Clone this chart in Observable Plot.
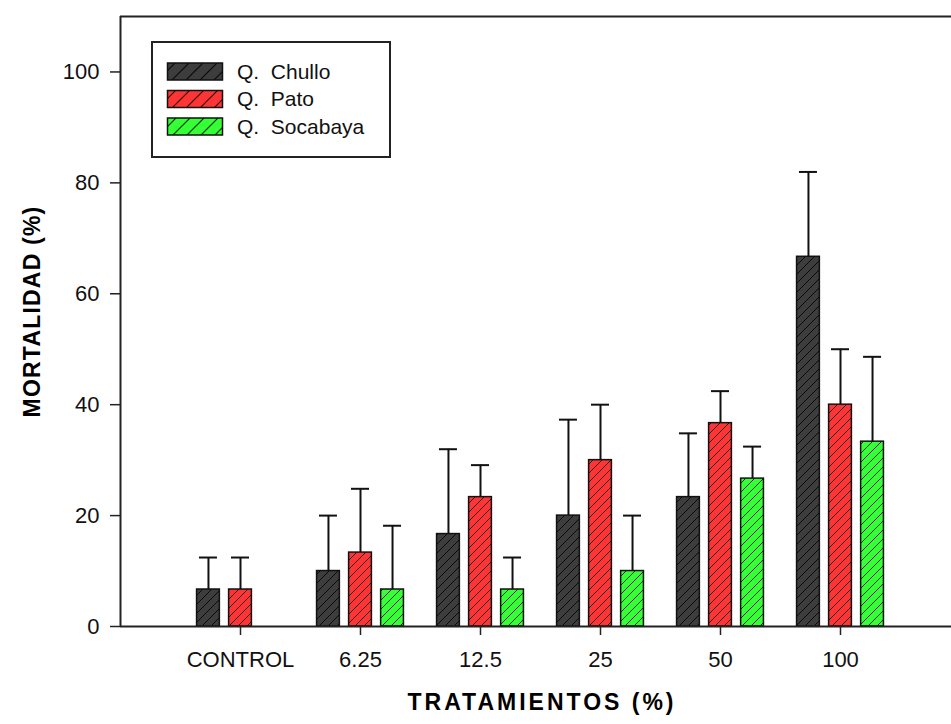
<!DOCTYPE html>
<html>
<head>
<meta charset="utf-8">
<script src="https://cdn.jsdelivr.net/npm/d3@7"></script>
<script src="https://cdn.jsdelivr.net/npm/@observablehq/plot@0.6"></script>
<style>
  body { margin: 0; background: #fff; }
  #wrap { position: relative; width: 951px; height: 724px; overflow: hidden; }
  #wrap svg.legend { position: absolute; left: 0; top: 0; pointer-events: none; }
</style>
</head>
<body>
<div id="wrap"></div>
<script>
// ---- data ----
const treatments = ["CONTROL", "6.25", "12.5", "25", "50", "100"];
const seriesNames = ["Q. Chullo", "Q. Pato", "Q. Socabaya"];
const chulloMean = [6.67, 10, 16.67, 20, 23.33, 66.67];
const chulloSD   = [5.77, 10, 15.3, 17.3, 11.5, 15.3];
const patoMean   = [6.67, 13.33, 23.33, 30, 36.67, 40];
const patoSD     = [5.77, 11.5, 5.77, 10, 5.77, 10];
const socaMean   = [0, 6.67, 6.67, 10, 26.67, 33.33];
const socaSD     = [0, 11.5, 5.77, 10, 5.77, 15.3];
const yTicks = [0, 20, 40, 60, 80, 100];

// ---- layout constants ----
const colors = ["#3d3d3d", "#ff3535", "#35ff35"];
const offsets = [-0.267, 0, 0.267];
const barW = 0.19;
const capW = 0.15;
const FONT = "'Liberation Sans', Arial, sans-serif";

const means = [chulloMean, patoMean, socaMean];
const sds = [chulloSD, patoSD, socaSD];
const rows = [];
treatments.forEach((t, i) => {
  seriesNames.forEach((s, j) => {
    const v = means[j][i];
    if (v > 0) rows.push({ t: i, s: j, name: s, v, sd: sds[j][i] });
  });
});
const cx = d => d.t + offsets[d.s];

const plot = Plot.plot({
  width: 951,
  height: 724,
  marginLeft: 120,
  marginRight: 0,
  marginTop: 16,
  marginBottom: 98,
  style: { fontFamily: FONT, background: "#fff", color: "#111" },
  x: { type: "linear", domain: [-1, 5.925], axis: null },
  y: { domain: [0, 110], axis: null },
  marks: [
    // error bars
    Plot.ruleX(rows, { x: cx, y1: "v", y2: d => d.v + d.sd, stroke: "#111", strokeWidth: 2 }),
    Plot.ruleY(rows, { y: d => d.v + d.sd, x1: d => cx(d) - capW / 2, x2: d => cx(d) + capW / 2, stroke: "#111", strokeWidth: 2 }),
    // bars: solid fill
    Plot.rectY(rows, { x1: d => cx(d) - barW / 2, x2: d => cx(d) + barW / 2, y1: 0, y2: "v", fill: d => colors[d.s] }),
    // bars: hatch overlay + outline
    Plot.rectY(rows, { x1: d => cx(d) - barW / 2, x2: d => cx(d) + barW / 2, y1: 0, y2: "v", fill: "url(#hatch)", stroke: "#111", strokeWidth: 1.5 }),
    // frame lines
    Plot.ruleY([110], { stroke: "#222", strokeWidth: 2 }),
    Plot.ruleX([-1], { stroke: "#222", strokeWidth: 2 }),
    Plot.ruleY([0], { stroke: "#222", strokeWidth: 2 }),
    // axes
    Plot.axisY({ ticks: yTicks, tickSize: 10, tickPadding: 11, fontSize: 22, label: null, stroke: "#222", strokeWidth: 1.5 }),
    Plot.axisX({ ticks: [0, 1, 2, 3, 4, 5], tickFormat: i => treatments[i], tickSize: 9, tickPadding: 16, fontSize: 22, label: null, stroke: "#222", strokeWidth: 1.5 }),
    // axis titles
    Plot.text(["MORTALIDAD (%)"], { text: d => d, frameAnchor: "left", textAnchor: "middle", dx: -88, dy: -10, rotate: -90, fontSize: 23, fontWeight: "bold", lineAnchor: "middle", fill: "#000" }),
    Plot.text(["TRATAMIENTOS (%)"], { text: d => d, frameAnchor: "bottom", textAnchor: "middle", dx: 6, dy: 76, fontSize: 23, fontWeight: "bold", lineAnchor: "middle", fill: "#000" })
  ]
});

// hatch pattern definitions
const svg = d3.select(plot);
const defs = svg.insert("defs", ":first-child");
function addHatch(id, size, sw) {
  defs.append("pattern")
    .attr("id", id).attr("patternUnits", "userSpaceOnUse")
    .attr("width", size).attr("height", size)
    .append("path")
    .attr("d", `M0,${size}L${size},0M${-size/4},${size/4}L${size/4},${-size/4}M${size*3/4},${size*5/4}L${size*5/4},${size*3/4}`)
    .attr("stroke", "#000").attr("stroke-width", sw).attr("opacity", 0.85);
}
addHatch("hatch", 9, 1);
addHatch("hatchL", 14, 1.2);

// letter spacing for axis titles
svg.selectAll("text").each(function () {
  const t = this.textContent;
  if (t === "MORTALIDAD (%)") this.style.letterSpacing = "1.2px";
  if (t === "TRATAMIENTOS (%)") this.style.letterSpacing = "3px";
});

const wrap = document.getElementById("wrap");
wrap.appendChild(plot);

// legend
const leg = d3.select(wrap).append("svg").attr("class", "legend").attr("width", 951).attr("height", 724);
leg.append("rect").attr("x", 152).attr("y", 42).attr("width", 238).attr("height", 115)
  .attr("fill", "#fff").attr("stroke", "#222").attr("stroke-width", 2);
seriesNames.forEach((s, j) => {
  const y = 63 + j * 27.5;
  leg.append("rect").attr("x", 167.5).attr("y", y).attr("width", 55).attr("height", 17).attr("fill", colors[j]);
  leg.append("rect").attr("x", 167.5).attr("y", y).attr("width", 55).attr("height", 17)
    .attr("fill", "url(#hatchL)").attr("stroke", "#111").attr("stroke-width", 1.5);
  leg.append("text").attr("x", 237).attr("y", y + 15.5).attr("font-family", FONT).attr("font-size", 21)
    .attr("fill", "#111").style("white-space", "pre").text(s.replace(". ", ".  "));
});
</script>
</body>
</html>
